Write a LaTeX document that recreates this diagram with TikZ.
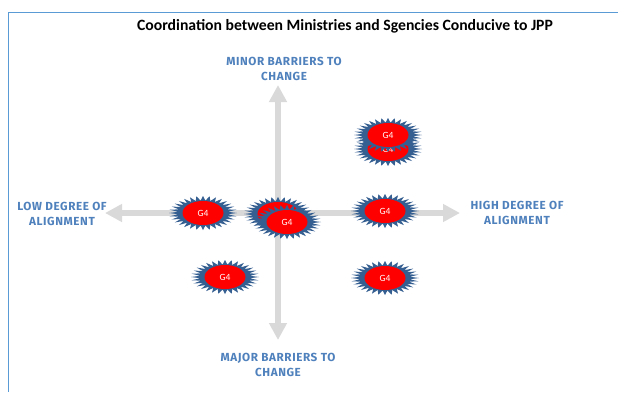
\documentclass[tikz,border=0pt]{standalone}
\usepackage{fontspec}
\setmainfont{Carlito}
\newfontfamily\labelfont[LetterSpace=5]{Fira Sans}
\usetikzlibrary{arrows.meta,shapes.geometric}
\definecolor{frameblue}{HTML}{5B9BD5}
\definecolor{labelblue}{HTML}{4F81BD}
\definecolor{burstblue}{HTML}{355F91}
\definecolor{axisgrey}{HTML}{D9D9D9}
\tikzset{
  axis/.style={draw=axisgrey,line width=6pt,-{Triangle[width=17pt,length=17pt,fill=axisgrey]}},
  burst/.style={star,star points=32,star point ratio=1.36,fill=burstblue,draw=none,inner sep=0pt,outer sep=0pt,minimum size=34pt,xscale=2},
  core/.style={ellipse,fill=red,draw=none,inner sep=0pt,minimum width=41pt,minimum height=24pt,text=white,font=\fontsize{9.5}{11}\selectfont},
  axislabel/.style={align=center,text=labelblue,font=\labelfont\fontsize{11.7}{15}\selectfont\bfseries},
  titletext/.style={text=black,font=\fontsize{15.7}{18}\selectfont\bfseries}
}
\newcommand{\gfour}[3]{%
  \node[burst] (b#1) at (#2,#3) {};
  \node[core] (c#1) at (#2,#3) {G4};
}
\begin{document}
\begin{tikzpicture}[x=1pt,y=-1pt]
\useasboundingbox (0,0) rectangle (618,392);
\fill[white] (0,0) rectangle (618,392);
\coordinate (fa) at (8.5,392);
\coordinate (fb) at (8.5,12.5);
\coordinate (fc) at (618,12.5);
\draw[frameblue,line width=1.8pt] (fa) -- (fb) -- (fc);
\node[titletext] (title) at (345,26) {Coordination between Ministries and Sgencies Conducive to JPP};
\coordinate (centre) at (278,213);
\coordinate (tipn) at (278,85);
\coordinate (tips) at (278,340);
\coordinate (tipw) at (105,213);
\coordinate (tipe) at (460,213);
\draw[axis] (centre) -- (tipn);
\draw[axis] (centre) -- (tips);
\draw[axis] (centre) -- (tipw);
\draw[axis] (centre) -- (tipe);
\node[axislabel] (minor) at (284,69) {MINOR BARRIERS TO\\CHANGE};
\node[axislabel] (major) at (278,365) {MAJOR BARRIERS TO\\CHANGE};
\node[axislabel] (low) at (62,214) {LOW DEGREE OF\\ALIGNMENT};
\node[axislabel] (high) at (517,213) {HIGH DEGREE OF\\ALIGNMENT};
\gfour{a}{203}{213}
\gfour{b}{225}{277}
\gfour{c}{385}{278}
\gfour{d}{385}{211}
\gfour{e}{388}{149}
\gfour{f}{388}{135}
\gfour{g}{278}{214}
\gfour{h}{287}{222}
\end{tikzpicture}
\end{document}
